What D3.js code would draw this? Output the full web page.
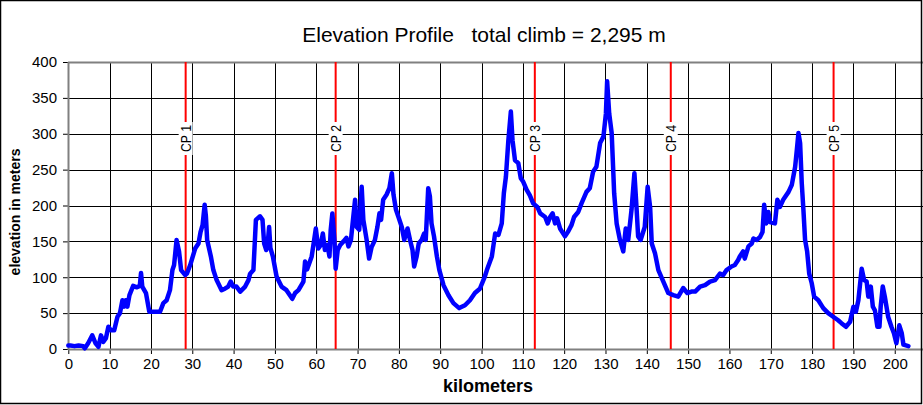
<!DOCTYPE html>
<html>
<head>
<meta charset="utf-8">
<script src="https://cdn.jsdelivr.net/npm/d3@7"></script>
<style>
  body { margin: 0; background: #fff; }
  text { font-family: "Liberation Sans", Arial, sans-serif; }
</style>
</head>
<body>
<div id="chart"></div>
<script>
var W = 923;
var H = 405;

// distance along the route (km) and elevation (m)
var km = [0, 0.5, 1.5, 2.5, 3.6, 4.0, 4.8, 5.8, 6.6, 7.3, 7.9, 8.5, 9.1, 9.7, 10.3, 11.1, 11.9, 12.5, 13.1, 13.5,
  13.9, 14.3, 14.8, 15.7, 16.6, 17.3, 17.6, 17.9, 18.8, 19.6, 22.2, 23.0, 23.8, 24.6, 25.2, 25.6, 26.2, 26.8, 27.3, 28.3,
  28.7, 29.5, 30.7, 31.5, 32.0, 32.5, 33.0, 33.3, 33.6, 34.5, 35.1, 35.9, 37.1, 37.9, 38.7, 39.3, 39.9, 40.7, 41.6, 42.8,
  43.6, 44.0, 44.8, 45.4, 46.4, 47.0, 47.4, 47.9, 48.3, 48.6, 48.9, 49.5, 50.4, 51.6, 52.8, 54.2, 54.9, 55.7, 56.9, 57.3,
  57.8, 58.9, 59.5, 59.9, 60.5, 61.1, 61.6, 62.1, 62.7, 63.2, 63.5, 63.9, 64.4, 64.7, 65.2, 65.8, 66.6, 67.3, 67.8, 68.4,
  68.8, 69.4, 69.8, 70.4, 71.0, 71.4, 72.2, 72.8, 73.4, 74.2, 74.8, 75.3, 75.7, 76.2, 77.0, 77.7, 78.3, 78.7, 79.3, 79.9,
  80.7, 81.3, 82.1, 82.7, 83.3, 83.7, 84.3, 84.8, 85.5, 86.1, 86.5, 87.1, 87.5, 87.9, 88.5, 89.2, 89.8, 90.8, 92.0, 93.2,
  94.6, 96.0, 97.2, 98.4, 99.6, 100.8, 101.3, 102.5, 103.3, 104.1, 104.9, 105.4, 105.9, 106.5, 107.1, 107.5, 108.1, 108.9, 109.5, 110.1,
  110.9, 111.7, 112.5, 113.5, 114.2, 115.4, 116.0, 116.6, 117.2, 117.8, 118.3, 119.0, 120.2, 121.0, 121.8, 122.4, 123.4, 124.2, 125.4, 126.2,
  127.0, 127.8, 128.7, 129.5, 130.1, 130.4, 130.9, 131.5, 131.9, 132.1, 132.7, 133.5, 134.3, 134.9, 135.5, 136.3, 137.0, 137.5, 137.9, 138.5,
  139.5, 140.2, 140.8, 141.2, 142.0, 142.8, 144.0, 145.2, 146.4, 147.6, 148.8, 149.8, 150.8, 151.7, 152.9, 154.1, 155.3, 156.5, 157.7, 158.5,
  159.3, 160.5, 161.3, 162.1, 162.5, 163.3, 163.7, 164.6, 165.4, 165.8, 166.6, 167.4, 168.0, 168.4, 168.9, 169.4, 169.8, 171.0, 171.6, 172.2,
  173.0, 174.3, 175.1, 175.9, 176.3, 176.7, 177.1, 177.5, 177.9, 178.3, 178.8, 179.3, 179.9, 180.5, 181.5, 182.7, 183.9, 185.1, 186.3, 187.1,
  188.2, 189.2, 190.0, 190.6, 191.2, 192.0, 192.6, 193.2, 193.6, 194.2, 194.7, 195.2, 195.8, 196.3, 196.6, 197.1, 197.6, 198.4, 199.2, 199.8,
  200.4, 201.1, 201.7, 202.1, 203.3];
var elev = [5, 5, 4, 5, 4, 1, 8, 19, 8, 3, 19, 10, 15, 31, 26, 26, 45, 50, 68, 59,
  68, 59, 75, 88, 86, 88, 106, 87, 78, 52, 52, 64, 68, 82, 110, 117, 152, 136, 110, 103,
  105, 117, 140, 147, 163, 173, 201, 185, 152, 129, 110, 96, 82, 84, 87, 94, 87, 87, 80, 87,
  96, 105, 110, 180, 185, 180, 147, 138, 150, 170, 141, 129, 101, 87, 82, 70, 78, 82, 94, 122,
  111, 129, 152, 168, 140, 145, 161, 138, 145, 129, 166, 189, 152, 112, 138, 145, 150, 155, 143, 152,
  175, 208, 170, 166, 226, 180, 152, 126, 142, 152, 170, 189, 180, 208, 215, 224, 245, 215, 194, 184,
  170, 152, 168, 152, 138, 115, 129, 147, 152, 161, 152, 224, 213, 175, 157, 129, 110, 89, 75, 64,
  57, 61, 68, 78, 84, 101, 110, 129, 161, 159, 175, 217, 240, 291, 331, 291, 263, 259, 238, 233,
  222, 214, 203, 198, 189, 184, 175, 184, 189, 175, 182, 168, 157, 164, 173, 184, 191, 203, 219, 224,
  247, 254, 287, 296, 328, 373, 328, 301, 245, 217, 175, 152, 136, 168, 152, 194, 245, 198, 157, 152,
  170, 226, 198, 147, 133, 110, 94, 78, 75, 73, 85, 78, 80, 80, 87, 89, 94, 96, 105, 103,
  110, 115, 117, 124, 129, 136, 126, 143, 147, 154, 152, 156, 163, 201, 175, 191, 177, 175, 208, 198,
  208, 219, 229, 254, 277, 301, 287, 231, 194, 152, 136, 105, 92, 73, 68, 57, 50, 45, 40, 36,
  31, 38, 59, 52, 68, 112, 96, 94, 73, 87, 59, 54, 31, 31, 59, 87, 73, 45, 31, 22,
  8, 33, 22, 6, 4];

var cpNames = ["CP 1", "CP 2", "CP 3", "CP 4", "CP 5"];
var cpKm = [28.4, 64.7, 112.9, 145.8, 185.2];

var xTicks = d3.range(0, 201, 10);
var yTicks = d3.range(0, 401, 50);

var x = d3.scaleLinear().domain([0, 206.5]).range([68.3, 921.6]);
var y = d3.scaleLinear().domain([0, 400]).range([349, 62]);

var svg = d3.select("#chart").append("svg")
  .attr("width", W)
  .attr("height", H);

svg.append("rect")
  .attr("width", W).attr("height", H)
  .style("fill", "#fff");

// grid
svg.append("g")
  .selectAll("line.v")
  .data(xTicks.filter(function(d) { return d > 0; }))
  .enter().append("line")
  .attr("x1", function(d) { return Math.round(x(d)) + 0.5; })
  .attr("x2", function(d) { return Math.round(x(d)) + 0.5; })
  .attr("y1", y(400)).attr("y2", y(0))
  .attr("stroke", "#000").attr("stroke-width", 1);

svg.append("g")
  .selectAll("line.h")
  .data(yTicks.filter(function(d) { return d > 0 && d < 400; }))
  .enter().append("line")
  .attr("x1", x(0)).attr("x2", W)
  .attr("y1", function(d) { return Math.round(y(d)) + 0.5; })
  .attr("y2", function(d) { return Math.round(y(d)) + 0.5; })
  .attr("stroke", "#000").attr("stroke-width", 1);

// plot frame (top)
svg.append("line")
  .attr("x1", 68).attr("x2", W)
  .attr("y1", 62.5).attr("y2", 62.5)
  .attr("stroke", "#808080").attr("stroke-width", 2);

// axes
var xAxis = d3.axisBottom(x).tickValues(xTicks).tickSize(5).tickPadding(4)
  .tickFormat(d3.format("d"));
var gx = svg.append("g").attr("transform", "translate(0," + 349 + ")").call(xAxis);
gx.select(".domain").remove();
gx.append("line").attr("x1", 68).attr("x2", W).attr("y1", 0.5).attr("y2", 0.5)
  .attr("stroke", "#808080").attr("stroke-width", 2);
gx.selectAll(".tick line").attr("stroke", "#000");
gx.selectAll(".tick text").style("font-size", "15px").attr("fill", "#000")
  .attr("font-family", null);

var yAxis = d3.axisLeft(y).tickValues(yTicks).tickSize(5).tickPadding(6);
var gy = svg.append("g").attr("transform", "translate(" + 68 + ",0)").call(yAxis);
gy.select(".domain").remove();
gy.append("line").attr("x1", 0.5).attr("x2", 0.5).attr("y1", 62).attr("y2", 350)
  .attr("stroke", "#808080").attr("stroke-width", 2);
gy.selectAll(".tick line").attr("stroke", "#000");
gy.selectAll(".tick text").style("font-size", "15px").attr("fill", "#000")
  .attr("font-family", null);

// checkpoint lines
var cps = svg.append("g").selectAll("g.cp")
  .data(cpKm)
  .enter().append("g")
  .attr("transform", function(d) { return "translate(" + x(d) + ",0)"; });

cps.append("line")
  .attr("x1", 0).attr("x2", 0)
  .attr("y1", y(400)).attr("y2", y(0))
  .attr("stroke", "#ff0000").attr("stroke-width", 2);

cps.append("rect")
  .attr("x", -7).attr("y", 122)
  .attr("width", 14).attr("height", 33)
  .style("fill", "#fff");

cps.append("text")
  .attr("transform", "translate(5,138.5) rotate(-90)")
  .attr("text-anchor", "middle")
  .attr("textLength", 27)
  .attr("lengthAdjust", "spacingAndGlyphs")
  .style("font-size", "14px")
  .text(function(d, i) { return cpNames[i]; });

// elevation line
var pts = km.map(function(d, i) { return [d, elev[i]]; });
var line = d3.line()
  .x(function(d) { return x(d[0]); })
  .y(function(d) { return y(d[1]); });

svg.append("path")
  .datum(pts)
  .attr("d", line)
  .attr("fill", "none")
  .attr("stroke", "#0000ff")
  .attr("stroke-width", 4.5)
  .attr("stroke-linejoin", "round")
  .attr("stroke-linecap", "round");

// titles
svg.append("text")
  .attr("x", 484).attr("y", 42)
  .attr("text-anchor", "middle")
  .style("font-size", "21px")
  .style("white-space", "pre")
  .text("Elevation Profile   total climb = 2,295 m");

svg.append("text")
  .attr("x", 488).attr("y", 392)
  .attr("text-anchor", "middle")
  .style("font-size", "18px")
  .style("font-weight", "bold")
  .text("kilometers");

svg.append("text")
  .attr("transform", "translate(20,212) rotate(-90)")
  .attr("text-anchor", "middle")
  .style("font-size", "14px")
  .style("font-weight", "bold")
  .text("elevation in meters");

// outer border
svg.append("rect")
  .attr("x", 0.5).attr("y", 0.5)
  .attr("width", 921).attr("height", 403)
  .attr("fill", "none")
  .attr("stroke", "#000").attr("stroke-width", 1.5);
</script>
</body>
</html>
